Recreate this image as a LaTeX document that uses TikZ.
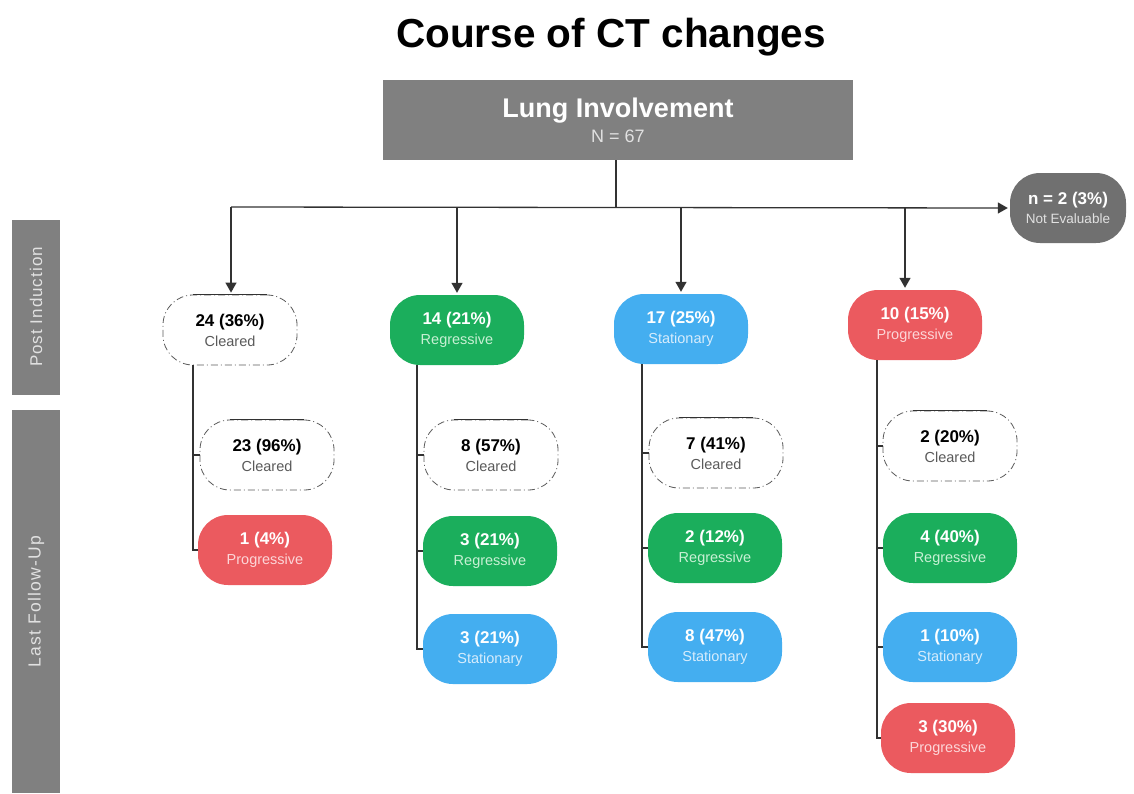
\documentclass[tikz,border=0pt]{standalone}
\usepackage{fontspec}
\setmainfont{Liberation Sans}
\usetikzlibrary{arrows.meta,calc}
\definecolor{cgreen}{RGB}{27,174,92}
\definecolor{cblue}{RGB}{68,174,240}
\definecolor{cred}{RGB}{235,90,95}
\definecolor{cgray}{RGB}{128,128,128}
\definecolor{cdgray}{RGB}{112,112,112}
\definecolor{lgreen}{RGB}{200,240,212}
\definecolor{lblue}{RGB}{214,236,252}
\definecolor{lred}{RGB}{252,214,216}
\definecolor{lgray}{RGB}{225,225,225}
\definecolor{ctext}{RGB}{90,90,90}
\definecolor{cline}{RGB}{50,50,50}
\newcommand{\ntxt}[3]{{\fontsize{17}{20}\selectfont\bfseries #1}\\[5pt]{\fontsize{14.5}{16}\selectfont\color{#3}#2}}
\tikzset{
  box/.style={rounded corners=30pt, minimum width=134pt, minimum height=70pt, inner sep=0pt, align=center},
  gbox/.style={box, fill=cgreen, text=white},
  bbox/.style={box, fill=cblue, text=white},
  rbox/.style={box, fill=cred, text=white},
  cbox/.style={box, fill=white, text=black, draw=cline!80, line width=0.8pt, dash pattern=on 7pt off 3pt on 1pt off 3pt},
  conn/.style={draw=cline, line width=1.3pt},
  arr/.style={conn, -{Triangle[width=11pt,length=10pt]}, shorten >=2pt},
  bar/.style={fill=cgray, text=lgray, inner sep=0pt, rotate=90, minimum height=48pt},
}
\begin{document}
\begin{tikzpicture}[x=1pt,y=-1pt]
\useasboundingbox (0,0) rectangle (1134,793);
\node (title) at (611,37) {\fontsize{40.5}{48}\selectfont\bfseries Course of CT changes};
\node[fill=cgray, minimum width=470pt, minimum height=80pt, inner sep=0pt, align=center] (lung) at (618,120)
  {{\fontsize{27}{30}\selectfont\bfseries\color{white}Lung Involvement}\\[6pt]{\fontsize{18}{20}\selectfont\color{lgray}N = 67}};
\node[rounded corners=30pt, minimum width=116pt, minimum height=70pt, inner sep=0pt, align=center, fill=cdgray, text=white] (ne) at (1068,208)
  {{\fontsize{17}{18}\selectfont\bfseries n = 2 (3\%)}\\[4pt]{\fontsize{13.5}{14}\selectfont\color{lgray}Not Evaluable}};
% side bars
\node[bar, minimum width=175pt] (pi) at (36,307) {\fontsize{17}{18}\selectfont\addfontfeature{LetterSpace=6}Post Induction};
\node[bar, minimum width=383pt] (lf) at (36,601.5) {\fontsize{17.5}{18}\selectfont\addfontfeature{LetterSpace=7}\raisebox{0pt}{Last Follow-Up}\hspace{20pt}};
% post induction
\node[cbox] (p1) at (230,330) {\ntxt{24 (36\%)}{Cleared}{ctext}};
\node[gbox] (p2) at (457,330) {\ntxt{14 (21\%)}{Regressive}{lgreen}};
\node[bbox] (p3) at (681,329) {\ntxt{17 (25\%)}{Stationary}{lblue}};
\node[rbox] (p4) at (915,325) {\ntxt{10 (15\%)}{Progressive}{lred}};
% last follow-up
\node[cbox] (c1a) at (267,455) {\ntxt{23 (96\%)}{Cleared}{ctext}};
\node[rbox] (c1b) at (265,550) {\ntxt{1 (4\%)}{Progressive}{lred}};
\node[cbox] (c2a) at (491,455) {\ntxt{8 (57\%)}{Cleared}{ctext}};
\node[gbox] (c2b) at (490,551) {\ntxt{3 (21\%)}{Regressive}{lgreen}};
\node[bbox] (c2c) at (490,649) {\ntxt{3 (21\%)}{Stationary}{lblue}};
\node[cbox] (c3a) at (716,453) {\ntxt{7 (41\%)}{Cleared}{ctext}};
\node[gbox] (c3b) at (715,548) {\ntxt{2 (12\%)}{Regressive}{lgreen}};
\node[bbox] (c3c) at (715,647) {\ntxt{8 (47\%)}{Stationary}{lblue}};
\node[cbox] (c4a) at (950,446) {\ntxt{2 (20\%)}{Cleared}{ctext}};
\node[gbox] (c4b) at (950,548) {\ntxt{4 (40\%)}{Regressive}{lgreen}};
\node[bbox] (c4c) at (950,647) {\ntxt{1 (10\%)}{Stationary}{lblue}};
\node[rbox] (c4d) at (948,738) {\ntxt{3 (30\%)}{Progressive}{lred}};
% solid top edges of cleared boxes
\foreach \n in {p1,c1a,c2a,c3a,c4a}
  \draw[cline, line width=1.2pt] ($(\n.north west)+(30,0)$) -- ($(\n.north east)+(-30,0)$);
% top connectors
\coordinate (hub) at (616,207);
\coordinate (hl) at (231,207);
\coordinate (d4) at (905,207);
\draw[conn] (lung.south -| hub) -- (hub);
\draw[arr] (hl) -- (ne.west);
\draw[arr] (hl) -- (hl |- p1.north);
\draw[arr] (p2.north |- hub) -- (p2.north);
\draw[arr] (p3.north |- hub) -- (p3.north);
\draw[arr] (d4) -- (d4 |- p4.north);
% trunks
\coordinate (t1) at (193,0);
\coordinate (t2) at (417,0);
\coordinate (t3) at (642,0);
\coordinate (t4) at (877,0);
\draw[conn] (p1.south -| t1) |- (c1a.west);
\draw[conn] (p1.south -| t1) |- (c1b.west);
\draw[conn] (p2.south -| t2) |- (c2a.west);
\draw[conn] (p2.south -| t2) |- (c2b.west);
\draw[conn] (p2.south -| t2) |- (c2c.west);
\draw[conn] (p3.south -| t3) |- (c3a.west);
\draw[conn] (p3.south -| t3) |- (c3b.west);
\draw[conn] (p3.south -| t3) |- (c3c.west);
\draw[conn] (p4.south -| t4) |- (c4a.west);
\draw[conn] (p4.south -| t4) |- (c4b.west);
\draw[conn] (p4.south -| t4) |- (c4c.west);
\draw[conn] (p4.south -| t4) |- (c4d.west);
\end{tikzpicture}
\end{document}
